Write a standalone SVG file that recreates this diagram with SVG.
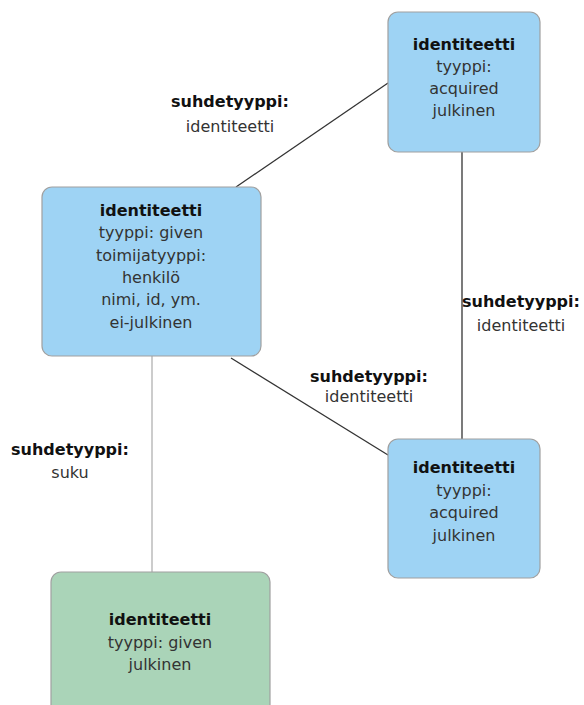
<svg xmlns="http://www.w3.org/2000/svg" width="584" height="705" viewBox="0 0 584 705">
<style>
.node{stroke:#a0a0a0;stroke-width:1.2}
.blue{fill:#9ed3f4}
.green{fill:#aad4b8}
text{font-family:"DejaVu Sans","Liberation Sans",sans-serif;font-size:16px;fill:#333;text-anchor:middle}
.b{font-weight:bold;fill:#111}
.edge{stroke:#333;stroke-width:1.3;fill:none}
.edge2{stroke:#aaa;stroke-width:1.2;fill:none}
</style>
<rect width="584" height="705" fill="#fff"/>
<g id="connectors">
<line class="edge" x1="388" y1="83" x2="236" y2="187"/>
<line class="edge" x1="462" y1="152" x2="462" y2="439"/>
<line class="edge" x1="231" y1="358" x2="388" y2="455"/>
<line class="edge2" x1="152" y1="356" x2="152" y2="572"/>
</g>
<g id="labels">
<text class="b" x="230" y="107">suhdetyyppi:</text>
<text x="230" y="132">identiteetti</text>
<text class="b" x="521" y="307">suhdetyyppi:</text>
<text x="521" y="331">identiteetti</text>
<text class="b" x="369" y="382">suhdetyyppi:</text>
<text x="369" y="402">identiteetti</text>
<text class="b" x="70" y="455">suhdetyyppi:</text>
<text x="70" y="478">suku</text>
</g>
<g id="node-top-right">
<rect class="node blue" x="388" y="12" width="152" height="140" rx="10"/>
<text class="b" x="464" y="50">identiteetti</text>
<text x="464" y="72">tyyppi:</text>
<text x="464" y="94">acquired</text>
<text x="464" y="116">julkinen</text>
</g>
<g id="node-left">
<rect class="node blue" x="42" y="187" width="219" height="169" rx="10"/>
<text class="b" x="151" y="216">identiteetti</text>
<text x="151" y="238">tyyppi: given</text>
<text x="151" y="261">toimijatyyppi:</text>
<text x="151" y="283">henkilö</text>
<text x="151" y="305">nimi, id, ym.</text>
<text x="151" y="328">ei-julkinen</text>
</g>
<g id="node-bottom-right">
<rect class="node blue" x="388" y="439" width="152" height="139" rx="10"/>
<text class="b" x="464" y="473">identiteetti</text>
<text x="464" y="496">tyyppi:</text>
<text x="464" y="518">acquired</text>
<text x="464" y="541">julkinen</text>
</g>
<g id="node-bottom-left">
<rect class="node green" x="51" y="572" width="219" height="150" rx="10"/>
<text class="b" x="160" y="625">identiteetti</text>
<text x="160" y="648">tyyppi: given</text>
<text x="160" y="670">julkinen</text>
</g>
</svg>
